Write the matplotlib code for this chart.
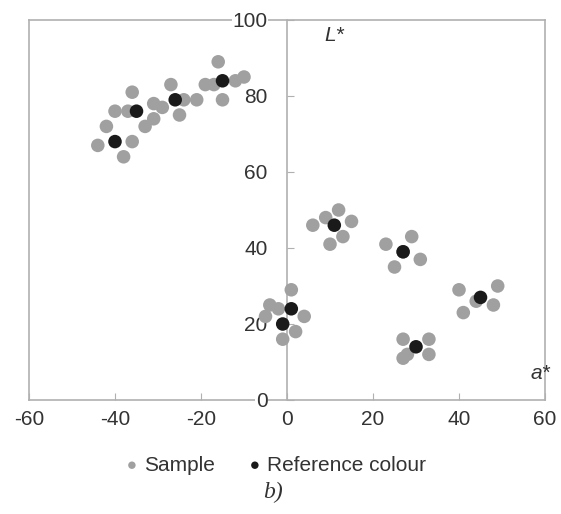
import matplotlib.pyplot as plt

plt.rcParams['font.family'] = ['Liberation Sans', 'DejaVu Sans']

# reference colours (a*, L*)
ref_a = [-40, -35, -26, -15, 11, 27, 45, 30, 1, -1]
ref_L = [68, 76, 79, 84, 46, 39, 27, 14, 24, 20]

# sample points (a*, L*)
smp_a = [-44, -42, -38, -36, -40, -37, -36, -33, -31, -31, -29, -27, -25, -24, -21,
         -19, -17, -16, -15, -12, -10,
         6, 9, 12, 15, 13, 10,
         23, 29, 31, 25, 27,
         40, 49, 48, 41, 44,
         27, 33, 33, 27, 28,
         1, -4, -5, 4, 2, -1, -2]
smp_L = [67, 72, 64, 68, 76, 76, 81, 72, 74, 78, 77, 83, 75, 79, 79,
         83, 83, 89, 79, 84, 85,
         46, 48, 50, 47, 43, 41,
         41, 43, 37, 35, 39,
         29, 30, 25, 23, 26,
         16, 16, 12, 11, 12,
         29, 25, 22, 22, 18, 16, 24]

xticks = [-60, -40, -20, 0, 20, 40, 60]
yticks = [0, 20, 40, 60, 80, 100]

fig = plt.figure(figsize=(5.61, 5.14), dpi=100)
ax = fig.add_axes([0.0517, 0.2218, 0.9198, 0.7393])

grey = '#a0a0a0'
ax.scatter(smp_a, smp_L, s=95, color=grey, edgecolors='none', label='Sample', zorder=3)
ax.scatter(ref_a, ref_L, s=95, color='#1a1a1a', edgecolors='none', label='Reference colour', zorder=4)

ax.set_xlim(-60, 60)
ax.set_ylim(0, 100)
ax.set_xticks(xticks)
ax.set_yticks(yticks)

frame = '#b0b0b0'
for s in ['top', 'right', 'bottom']:
    ax.spines[s].set_color(frame)
    ax.spines[s].set_linewidth(1.2)
    ax.spines[s].set_zorder(1)
ax.spines['left'].set_position(('data', 0))
ax.spines['left'].set_color(frame)
ax.spines['left'].set_linewidth(1.2)
ax.spines['left'].set_zorder(1)
ax.axvline(-60, color=frame, lw=1.2, clip_on=False, zorder=1)

ax.tick_params(axis='x', direction='in', length=5, color=frame, labelsize=15,
               labelcolor='#333333', pad=7)
ax.tick_params(axis='y', direction='in', length=5, color=frame, labelsize=15,
               labelcolor='#333333', pad=14)
ax.set_xticklabels([str(t) for t in xticks])
ax.set_yticklabels([str(t) for t in yticks])
for lab in ax.get_yticklabels():
    lab.set_bbox(dict(facecolor='white', edgecolor='none', pad=0.5))

ax.text(11, 96, 'L*', fontsize=15, style='italic', color='#333333', ha='center', va='center')
ax.text(59, 7, 'a*', fontsize=15, style='italic', color='#333333', ha='center', va='center')

fig.legend(loc='center', bbox_to_anchor=(0.492, 0.095), ncol=2, frameon=False,
           fontsize=15, handlelength=0.6, handletextpad=0.3, columnspacing=1.6,
           markerscale=0.55, labelcolor='#333333')
fig.text(0.487, 0.042, 'b)', fontsize=17, style='italic', family='Liberation Serif',
         ha='center', va='center', color='#333333')

fig.savefig('out.png', dpi=100, facecolor='white')
